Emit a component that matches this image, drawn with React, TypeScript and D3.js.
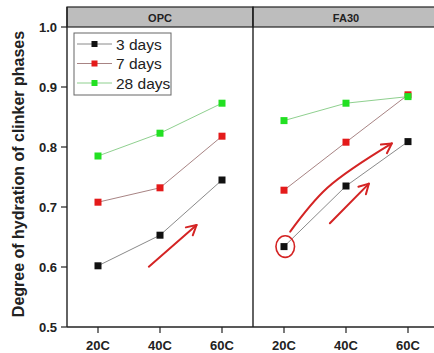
import React from 'react';
import * as d3 from 'd3';

// chart data
const panels = ['OPC', 'FA30'];
const temps = ['20C', '40C', '60C'];
const seriesNames = ['3 days', '7 days', '28 days'];
const opc3 = [0.602, 0.653, 0.745];
const opc7 = [0.708, 0.732, 0.818];
const opc28 = [0.785, 0.823, 0.873];
const fa3 = [0.634, 0.735, 0.809];
const fa7 = [0.728, 0.808, 0.887];
const fa28 = [0.844, 0.873, 0.884];
const yTicks = [0.5, 0.6, 0.7, 0.8, 0.9, 1.0];

const markerColors = ['#111111', '#e41a1a', '#22e022'];
const lineColors = ['#8a8a8a', '#a88484', '#8fd08f'];

// hand drawn red marks, in (panel, category index, value) units
const arrows = [
  { panel: 'OPC', pts: [[0.82, 0.6005], [1.59, 0.670]] },
  { panel: 'FA30', pts: [[0.1, 0.659], [0.7, 0.732], [1.74, 0.806]] },
  { panel: 'FA30', pts: [[0.74, 0.673], [1.37, 0.739]] },
];
const circleMark = { panel: 'FA30', idx: 0.02, value: 0.634, rIdx: 0.15, rVal: 0.018 };

const W = 434;
const H = 353;
const left = 67;
const top = 7;
const headerBottom = 27;
const bottom = 327;
const panelW = 186;

export default function App() {
  const xPanel = d3.scaleBand<string>().domain(panels).range([left, left + panelW * 2]).padding(0);
  const xCat = d3.scalePoint<string>().domain(temps).range([0, panelW]).padding(0.5);
  const y = d3.scaleLinear().domain([0.5, 1.0]).range([bottom, headerBottom]);
  const step = xCat.step();
  const xIdx = (panel: string, i: number) => (xPanel(panel) as number) + (xCat(temps[0]) as number) + i * step;

  const data: Record<string, number[][]> = {
    OPC: [opc3, opc7, opc28],
    FA30: [fa3, fa7, fa28],
  };

  const line = d3.line<number>()
    .x((_, i) => (xCat(temps[i]) as number))
    .y(d => y(d));

  const curve = d3.line<number[]>().x(d => d[0]).y(d => d[1]).curve(d3.curveCatmullRom);

  const font = "'Liberation Sans', Arial, sans-serif";

  return (
    <svg width={W} height={H} style={{ position: 'absolute', left: 0, top: 0, background: '#fff' }}>
      {/* header strips */}
      {panels.map(p => (
        <g key={p}>
          <rect x={xPanel(p)} y={top} width={panelW} height={headerBottom - top} fill="#bdbdbd" stroke="#222" strokeWidth={1.2} />
          <text x={(xPanel(p) as number) + panelW / 2} y={22} textAnchor="middle" fontFamily={font} fontSize={11} fontWeight="bold" fill="#222">{p}</text>
        </g>
      ))}

      {/* axes frame */}
      <line x1={left} x2={left} y1={top} y2={bottom} stroke="#222" strokeWidth={1.4} />
      <line x1={left} x2={left + panelW * 2} y1={bottom} y2={bottom} stroke="#222" strokeWidth={1.4} />
      <line x1={left + panelW} x2={left + panelW} y1={top} y2={bottom} stroke="#222" strokeWidth={1.4} />

      {yTicks.map(t => (
        <g key={t}>
          <line x1={left - 6} x2={left} y1={y(t)} y2={y(t)} stroke="#222" strokeWidth={1.2} />
          <text x={57} y={y(t) + 4.5} textAnchor="end" fontFamily={font} fontSize={13} fontWeight="bold" fill="#222">{t.toFixed(1)}</text>
        </g>
      ))}

      {panels.map(p => temps.map(t => {
        const x = (xPanel(p) as number) + (xCat(t) as number);
        return (
          <g key={p + t}>
            <line x1={x} x2={x} y1={bottom} y2={bottom + 6} stroke="#222" strokeWidth={1.2} />
            <text x={x} y={350} textAnchor="middle" fontFamily={font} fontSize={13} fontWeight="bold" fill="#222">{t}</text>
          </g>
        );
      }))}

      <text transform="translate(24,174) rotate(-90)" textAnchor="middle" fontFamily={font} fontSize={16} fontWeight="bold" fill="#222">
        Degree of hydration of clinker phases
      </text>

      {/* series */}
      {panels.map(p => (
        <g key={p} transform={`translate(${xPanel(p)},0)`}>
          {data[p].map((vals, s) => (
            <g key={s}>
              <path d={line(vals) as string} fill="none" stroke={lineColors[s]} strokeWidth={1} />
              {vals.map((v, i) => (
                <rect key={i} x={(xCat(temps[i]) as number) - 3.5} y={y(v) - 3.5} width={7} height={7} fill={markerColors[s]} />
              ))}
            </g>
          ))}
        </g>
      ))}

      {/* legend */}
      <rect x={74} y={33} width={97} height={62} fill="#fff" stroke="#666" strokeWidth={1} />
      {seriesNames.map((n, s) => {
        const ly = 44 + s * 19.5;
        return (
          <g key={n}>
            <line x1={77} x2={112} y1={ly} y2={ly} stroke={lineColors[s]} strokeWidth={1} />
            <rect x={91.5} y={ly - 3} width={6} height={6} fill={markerColors[s]} />
            <text x={116} y={ly + 5.5} fontFamily={font} fontSize={15.5} fill="#222">{n}</text>
          </g>
        );
      })}

      {/* red annotations */}
      {arrows.map((a, k) => {
        const pts = a.pts.map(([i, v]) => [xIdx(a.panel, i), y(v)]);
        const tip = pts[pts.length - 1];
        const prev = pts[pts.length - 2];
        const ang = Math.atan2(tip[1] - prev[1], tip[0] - prev[0]);
        const len = 11;
        const h1 = [tip[0] - len * Math.cos(ang - 0.5), tip[1] - len * Math.sin(ang - 0.5)];
        const h2 = [tip[0] - len * Math.cos(ang + 0.5), tip[1] - len * Math.sin(ang + 0.5)];
        return (
          <g key={k} stroke="#d42424" strokeWidth={2} fill="none" strokeLinecap="round" strokeLinejoin="round">
            <path d={curve(pts) as string} />
            <path d={`M${h1[0]},${h1[1]}L${tip[0]},${tip[1]}L${h2[0]},${h2[1]}`} />
          </g>
        );
      })}
      <ellipse
        cx={xIdx(circleMark.panel, circleMark.idx)}
        cy={y(circleMark.value)}
        rx={circleMark.rIdx * step}
        ry={y(0.5) - y(0.5 + circleMark.rVal)}
        fill="none"
        stroke="#d42424"
        strokeWidth={1.6}
      />
    </svg>
  );
}
